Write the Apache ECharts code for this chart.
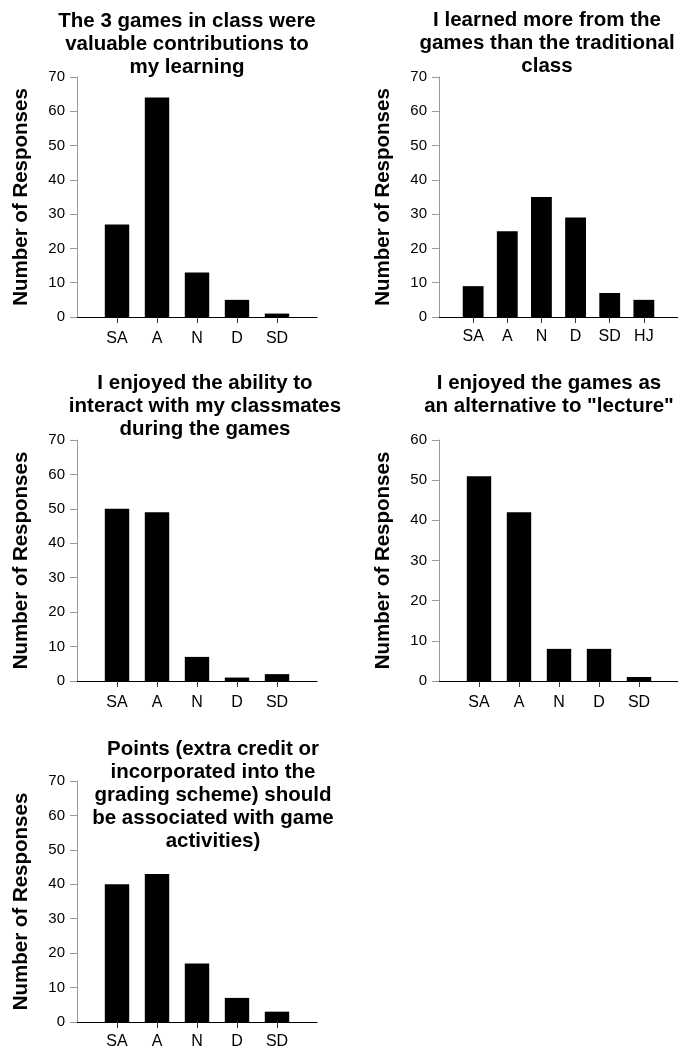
<!DOCTYPE html>
<html>
<head>
<meta charset="utf-8">
<script src="https://cdn.jsdelivr.net/npm/echarts@6/dist/echarts.min.js"></script>
<style>
html,body{margin:0;padding:0;background:#fff;}
#main{width:678px;height:1048px;}
</style>
</head>
<body>
<div id="main"></div>
<script>
// ---- data ----
const categories5 = ['SA', 'A', 'N', 'D', 'SD'];
const categories6 = ['SA', 'A', 'N', 'D', 'SD', 'HJ'];
const valuableValues = [27, 64, 13, 5, 1];
const learnedMoreValues = [9, 25, 35, 29, 7, 5];
const interactValues = [50, 49, 7, 1, 2];
const alternativeValues = [51, 42, 8, 8, 1];
const pointsValues = [40, 43, 17, 7, 3];
const yMaxes = [70, 70, 70, 60, 70];
const yInterval = 10;
const titles = [
  'The 3 games in class were\nvaluable contributions to\nmy learning',
  'I learned more from the\ngames than the traditional\nclass',
  'I enjoyed the ability to\ninteract with my classmates\nduring the games',
  'I enjoyed the games as\nan alternative to "lecture"',
  'Points (extra credit or\nincorporated into the\ngrading scheme) should\nbe associated with game\nactivities)'
];
const yAxisName = 'Number of Responses';

// ---- layout ----
const FONT = '"Liberation Sans", Arial, Helvetica, sans-serif';
const grids = [
  {left: 77, top: 77, width: 240, height: 240},
  {left: 439, top: 77, width: 239, height: 240},
  {left: 77, top: 440, width: 240, height: 241},
  {left: 439, top: 440, width: 240, height: 241},
  {left: 77, top: 781, width: 240, height: 241}
];
const xLabelMargins = [14, 12, 14, 14, 12];
const titlePos = [
  {left: 187, top: 10},
  {left: 547, top: 9},
  {left: 205, top: 372},
  {left: 549, top: 372},
  {left: 213, top: 738}
];
const panels = [
  {cats: categories5, vals: valuableValues},
  {cats: categories6, vals: learnedMoreValues},
  {cats: categories5, vals: interactValues},
  {cats: categories5, vals: alternativeValues},
  {cats: categories5, vals: pointsValues}
];

const option = {
  animation: false,
  backgroundColor: '#ffffff',
  title: titles.map((t, i) => ({
    text: t,
    left: titlePos[i].left,
    top: titlePos[i].top,
    padding: 0,
    textAlign: 'center',
    textStyle: {fontFamily: FONT, fontSize: 20.5, fontWeight: 'bold', color: '#000', lineHeight: 23}
  })),
  grid: grids.map(g => Object.assign({containLabel: false, outerBoundsMode: 'none'}, g)),
  xAxis: panels.map((p, i) => ({
    type: 'category',
    gridIndex: i,
    boundaryGap: false,
    data: [' '].concat(p.cats, ['  ']),
    axisLine: {lineStyle: {color: '#000', width: 1}},
    axisTick: {
      show: true, inside: false, length: 6,
      lineStyle: {color: '#333'},
      interval: (idx, val) => String(val).trim() !== ''
    },
    axisLabel: {
      interval: 0, margin: xLabelMargins[i],
      fontFamily: FONT, fontSize: 16, color: '#000'
    },
    splitLine: {show: false}
  })),
  yAxis: panels.map((p, i) => ({
    type: 'value',
    gridIndex: i,
    min: 0,
    max: yMaxes[i],
    interval: yInterval,
    name: yAxisName,
    nameLocation: 'middle',
    nameGap: 45,
    nameTextStyle: {fontFamily: FONT, fontSize: 20.5, fontWeight: 'bold', color: '#000'},
    axisLine: {show: true, lineStyle: {color: '#999', width: 1}},
    axisTick: {show: true, inside: false, length: 7, lineStyle: {color: '#999'}},
    axisLabel: {margin: 12, fontFamily: FONT, fontSize: 15, color: '#000'},
    splitLine: {show: false}
  })),
  series: panels.map((p, i) => ({
    type: 'bar',
    xAxisIndex: i,
    yAxisIndex: i,
    barWidth: '61%',
    data: [null].concat(p.vals, [null]),
    itemStyle: {color: '#000'},
    silent: true
  }))
};

const chart = echarts.init(document.getElementById('main'), null, {renderer: 'canvas'});
chart.setOption(option);
</script>
</body>
</html>
